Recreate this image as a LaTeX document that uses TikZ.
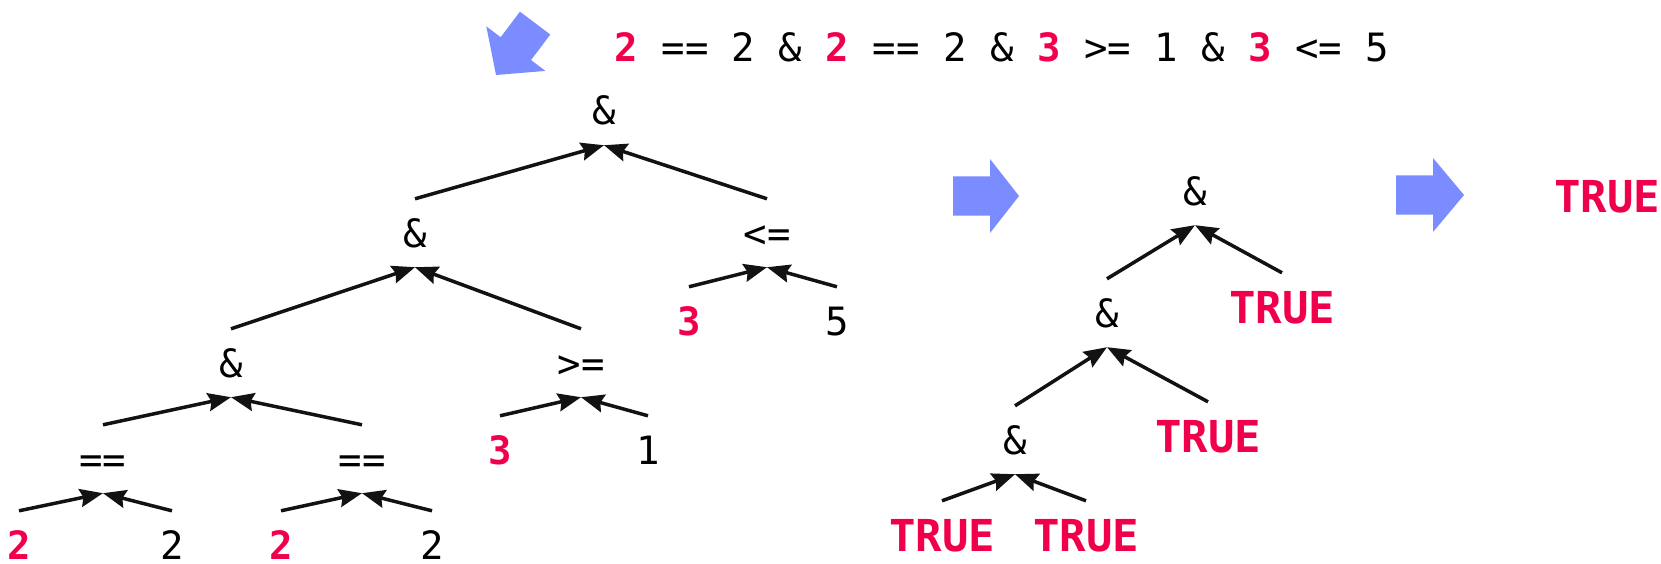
\documentclass[tikz,border=0pt]{standalone}
\usepackage{fontspec}
\setmonofont{DejaVu Sans Mono}
\usepackage{xcolor}
\usetikzlibrary{arrows.meta}
\definecolor{exprred}{RGB}{240,0,75}
\definecolor{stepblue}{RGB}{122,140,255}
\newcommand{\redval}[1]{\textcolor{exprred}{\textbf{#1}}}

\begin{document}
\begin{tikzpicture}[x=1pt, y=-1pt,
    term/.style={font=\ttfamily\fontsize{39}{44}\selectfont, text height=28pt, text depth=0pt, inner xsep=2pt, inner ysep=20pt},
    value/.style={term, text=exprred, font=\ttfamily\bfseries\fontsize{39}{44}\selectfont},
    truth/.style={value, font=\ttfamily\bfseries\fontsize{44}{48}\selectfont, text height=32pt, inner ysep=18pt},
    edge/.style={-{Stealth[length=23pt, width=18pt, inset=3pt]}, line width=3.5pt, black!93},
    stepping/.style={fill=stepblue}
]
    \useasboundingbox (0,0) rectangle (1661,564);

    % Expression
    \node[term] (expr) at (1002,48) {\redval{2} == 2 \& \redval{2} == 2 \& \redval{3} >= 1 \& \redval{3} <= 5};

    % Step arrows
    \fill[stepping, shift={(496,75)}, rotate=233] (0,0) -- (-33,-37) -- (-33,-19) -- (-65,-19) -- (-65,19) -- (-33,19) -- (-33,37) -- cycle;
    \fill[stepping, shift={(1019,196)}] (0,0) -- (-29,-37) -- (-29,-19.5) -- (-66,-19.5) -- (-66,19.5) -- (-29,19.5) -- (-29,37) -- cycle;
    \fill[stepping, shift={(1464,195)}] (0,0) -- (-31,-37) -- (-31,-19.5) -- (-68,-19.5) -- (-68,19.5) -- (-31,19.5) -- (-31,37) -- cycle;

    % Full tree
    \node[term] (and1) at (604,111) {\&};
    \node[term] (and2) at (415,233) {\&};
    \node[term] (le) at (767,233) {<=};
    \node[value] (le3) at (689,321) {3};
    \node[term] (le5) at (837,321) {5};
    \node[term] (and3) at (231,363) {\&};
    \node[term] (ge) at (581,363) {>=};
    \node[value] (ge3) at (500,450) {3};
    \node[term] (ge1) at (648,450) {1};
    \node[term] (eqa) at (103,459) {==};
    \node[term] (eqb) at (362,459) {==};
    \node[value] (eqa2) at (19,545) {2};
    \node[term] (eqa2r) at (172,545) {2};
    \node[value] (eqb2) at (281,545) {2};
    \node[term] (eqb2r) at (432,545) {2};

    \draw[edge] (and2.north) -- (and1.south);
    \draw[edge] (le.north) -- (and1.south);
    \draw[edge] (le3.north) -- (le.south);
    \draw[edge] (le5.north) -- (le.south);
    \draw[edge] (and3.north) -- (and2.south);
    \draw[edge] (ge.north) -- (and2.south);
    \draw[edge] (ge3.north) -- (ge.south);
    \draw[edge] (ge1.north) -- (ge.south);
    \draw[edge] (eqa.north) -- (and3.south);
    \draw[edge] (eqb.north) -- (and3.south);
    \draw[edge] (eqa2.north) -- (eqa.south);
    \draw[edge] (eqa2r.north) -- (eqa.south);
    \draw[edge] (eqb2.north) -- (eqb.south);
    \draw[edge] (eqb2r.north) -- (eqb.south);

    % Reduced tree
    \node[term] (rand1) at (1195,191) {\&};
    \node[term] (rand2) at (1107,313) {\&};
    \node[truth] (rtrue1) at (1282,307) {TRUE};
    \node[term] (rand3) at (1015,440) {\&};
    \node[truth] (rtrue2) at (1208,436) {TRUE};
    \node[truth] (rtrue3) at (942,535) {TRUE};
    \node[truth] (rtrue4) at (1086,535) {TRUE};

    \draw[edge] (rand2.north) -- (rand1.south);
    \draw[edge] (rtrue1.north) -- (rand1.south);
    \draw[edge] (rand3.north) -- (rand2.south);
    \draw[edge] (rtrue2.north) -- (rand2.south);
    \draw[edge] (rtrue3.north) -- (rand3.south);
    \draw[edge] (rtrue4.north) -- (rand3.south);

    % Result
    \node[truth] (result) at (1607,196) {TRUE};
\end{tikzpicture}
\end{document}
